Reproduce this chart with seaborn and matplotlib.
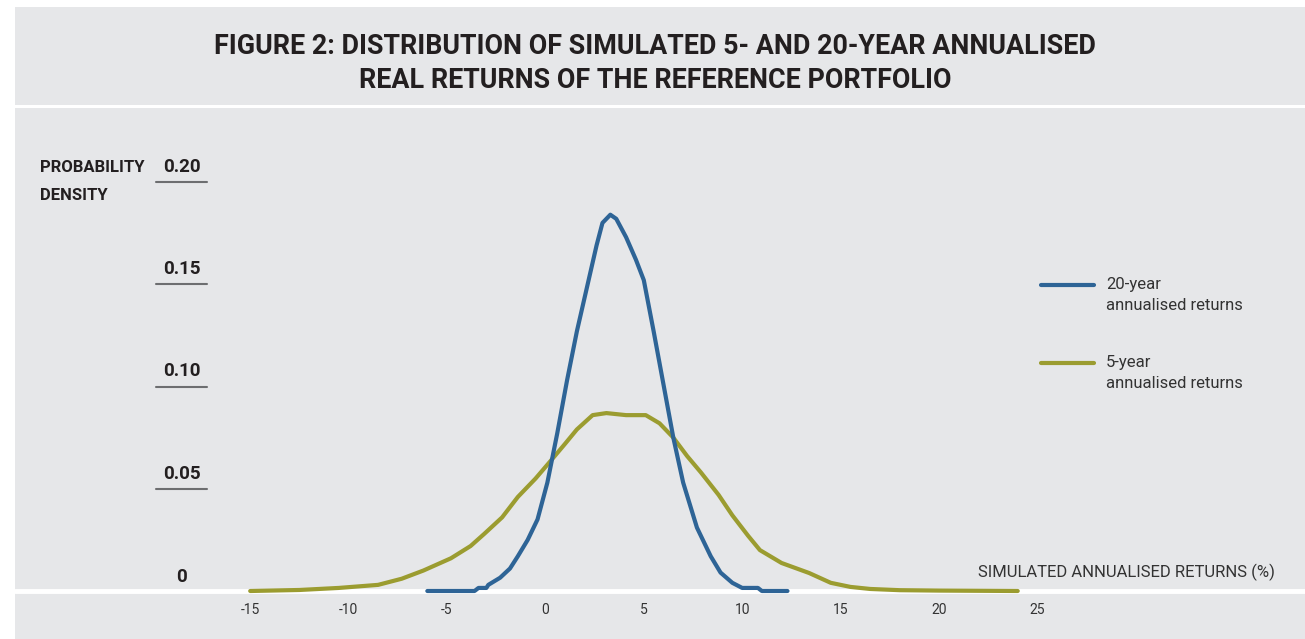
import numpy as np
import pandas as pd
import matplotlib
matplotlib.use('Agg')
import matplotlib.pyplot as plt
import matplotlib.transforms as mtransforms
from matplotlib.patches import Rectangle
import seaborn as sns

# Data
returns_20y = [-6.0, -3.6, -3.4, -3.0, -2.9, -2.3, -1.8, -1.4, -0.9, -0.4, 0.1, 0.6,
               1.1, 1.6, 2.1, 2.6, 2.9, 3.3, 3.6, 4.1, 4.6, 5.0, 5.5, 6.0, 6.5,
               7.0, 7.7, 8.4, 8.9, 9.5, 10.0, 10.8, 11.0, 12.3]
density_20y = [0.0, 0.0, 0.0015, 0.0015, 0.003, 0.0065, 0.011, 0.017, 0.025, 0.035, 0.053, 0.077,
               0.103, 0.127, 0.148, 0.169, 0.180, 0.184, 0.182, 0.173, 0.162, 0.152, 0.127, 0.101, 0.075,
               0.053, 0.031, 0.017, 0.009, 0.004, 0.0015, 0.0015, 0.0, 0.0]

returns_5y = [-15.0, -12.5, -10.5, -8.5, -7.3, -6.2, -4.8, -3.8, -3.1, -2.2, -1.4, -0.5,
              0.3, 1.0, 1.6, 2.4, 3.1, 4.1, 5.1, 5.8, 6.5, 7.2, 7.9, 8.8, 9.5,
              10.3, 10.9, 12.0, 13.4, 14.5, 15.5, 16.5, 18.0, 20.0, 24.0]
density_5y = [0.0, 0.0005, 0.0015, 0.003, 0.006, 0.010, 0.016, 0.022, 0.028, 0.036, 0.046, 0.055,
              0.064, 0.072, 0.079, 0.086, 0.087, 0.086, 0.086, 0.082, 0.075, 0.066, 0.058, 0.047, 0.037,
              0.027, 0.020, 0.0137, 0.0088, 0.004, 0.002, 0.001, 0.0004, 0.0002, 0.0]

y_ticks = [0.05, 0.10, 0.15, 0.20]
y_tick_labels = ['0.05', '0.10', '0.15', '0.20']
x_ticks = [-15, -10, -5, 0, 5, 10, 15, 20, 25]

BG = '#e6e7e9'
BLUE = '#2e6496'
GREEN = '#9b9c30'
TXT = '#231f20'

sns.set_style('white')
plt.rcParams['font.family'] = ['Roboto', 'DejaVu Sans']

W, H = 1305, 639
fig = plt.figure(figsize=(W / 100, H / 100), dpi=100, facecolor='white')

# background panels
fig.patches.append(Rectangle((15 / W, 1 - 105 / H), 1, 98 / H, transform=fig.transFigure,
                             facecolor=BG, edgecolor='none', zorder=-10))
fig.patches.append(Rectangle((15 / W, 0), 1, 1 - 108 / H, transform=fig.transFigure,
                             facecolor=BG, edgecolor='none', zorder=-10))

fig.text(655 / W, 1 - 47 / H, 'FIGURE 2: DISTRIBUTION OF SIMULATED 5- AND 20-YEAR ANNUALISED',
         ha='center', va='center', fontsize=19.4, fontweight='bold', color=TXT)
fig.text(655 / W, 1 - 80 / H, 'REAL RETURNS OF THE REFERENCE PORTFOLIO',
         ha='center', va='center', fontsize=19.4, fontweight='bold', color=TXT)

# axes placed so data coordinates line up with the reference
ax = fig.add_axes([15 / W, 1 - 625 / H, 1290 / W, (625 - 110) / H])
ax.set_facecolor('none')
ax.set_zorder(5)
px_x = 19.68
x0_px = 545.4
ax.set_xlim(-(x0_px - 15) / px_x, (1305 - x0_px) / px_x)
px_y = (591 - 182) / 0.20
ax.set_ylim(-(625 - 591) / px_y, (591 - 110) / px_y)
for s in ax.spines.values():
    s.set_visible(False)

ax.axhline(0, color='white', lw=3.5, zorder=1)

df20 = pd.DataFrame({'x': returns_20y, 'y': density_20y})
df5 = pd.DataFrame({'x': returns_5y, 'y': density_5y})
sns.lineplot(data=df5, x='x', y='y', ax=ax, color=GREEN, lw=3, zorder=3, clip_on=False,
             solid_joinstyle='round')
sns.lineplot(data=df20, x='x', y='y', ax=ax, color=BLUE, lw=3, zorder=4, clip_on=False,
             solid_joinstyle='round')

ax.set_xticks([])
ax.set_yticks([])
ax.set_xlabel('')
ax.set_ylabel('')

for t in x_ticks:
    ax.text(t, -(610 - 591) / px_y, str(t), ha='center', va='center',
            fontsize=10, color='#333333')

trans = mtransforms.blended_transform_factory(fig.transFigure, ax.transData)
for v, lab in zip(y_ticks, y_tick_labels):
    ax.plot([156 / W, 207 / W], [v, v], transform=trans, color='#6d6e70', lw=1.5, clip_on=False)
    ax.text(182 / W, v + 15 / px_y, lab, transform=trans, ha='center', va='center',
            fontsize=13.5, fontweight='bold', color=TXT)
ax.text(182 / W, 14 / px_y, '0', transform=trans, ha='center', va='center',
        fontsize=13.5, fontweight='bold', color=TXT)

fig.text(40 / W, 1 - 167 / H, 'PROBABILITY', ha='left', va='center',
         fontsize=12, fontweight='bold', color=TXT)
fig.text(40 / W, 1 - 195 / H, 'DENSITY', ha='left', va='center',
         fontsize=12, fontweight='bold', color=TXT)

ax.text(1275 / W, 19 / px_y, 'SIMULATED ANNUALISED RETURNS (%)', transform=trans,
        ha='right', va='center', fontsize=12, color='#333333')

# legend drawn by hand
for yy, col, lab in [(285, BLUE, '20-year'), (363, GREEN, '5-year')]:
    fig.add_artist(plt.Line2D([1041 / W, 1094 / W], [1 - yy / H, 1 - yy / H], color=col, lw=3,
                              solid_capstyle='round'))
    fig.text(1106 / W, 1 - yy / H, lab, ha='left', va='center', fontsize=12, color='#333333')
    fig.text(1106 / W, 1 - (yy + 20) / H, 'annualised returns', ha='left', va='center',
             fontsize=12, color='#333333')

fig.savefig('out.png', dpi=100, facecolor='white')
